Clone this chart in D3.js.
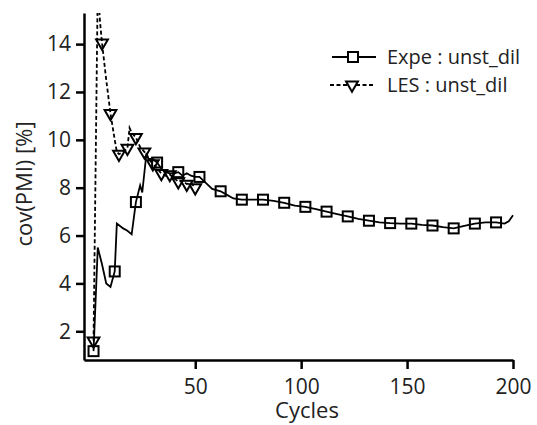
<!DOCTYPE html>
<html>
<head>
<meta charset="utf-8">
<script src="https://cdn.jsdelivr.net/npm/d3@7"></script>
<style>
  body { margin: 0; background: #fff; }
  text { font-family: "Open Sans", sans-serif; fill: #222; }
  .axis path, .axis line { stroke: #000; stroke-width: 2.5; }
</style>
</head>
<body>
<div id="chart"></div>
<script>
// data
const expeCycles = [2, 4, 6, 8, 10, 12, 13, 16, 18, 20, 22, 24, 25, 27, 28, 30, 32, 34, 36, 38, 40, 42, 44, 46, 48, 50, 52,
  55, 58, 62, 65, 68, 72, 77, 82, 87, 92, 97, 102, 107, 112, 117, 122, 127, 132, 137, 142, 147, 152,
  157, 162, 167, 172, 177, 182, 187, 192, 196, 198, 200];
const expeValues = [1.17, 5.5, 4.8, 4.0, 3.85, 4.5, 6.5, 6.3, 6.2, 6.05, 7.4, 8.1, 7.8, 9.45, 9.2, 9.2, 9.05, 8.8, 8.65, 8.6, 8.6, 8.65, 8.5, 8.6, 8.5, 8.45, 8.45,
  8.2, 7.95, 7.85, 7.7, 7.55, 7.5, 7.5, 7.5, 7.45, 7.37, 7.25, 7.2, 7.1, 7.0, 6.9, 6.8, 6.7, 6.62, 6.55, 6.52, 6.5, 6.5,
  6.45, 6.42, 6.35, 6.3, 6.4, 6.5, 6.55, 6.55, 6.5, 6.6, 6.85];
const expeMarkers = [2, 12, 22, 32, 42, 52, 62, 72, 82, 92, 102, 112, 122, 132, 142, 152, 162, 172, 182, 192];

const lesCycles = [2, 3, 4, 5, 6, 8, 10, 12, 13, 14, 16, 18, 19, 20, 22, 24, 26, 28, 30, 32, 34, 36, 38, 40, 42, 44, 46, 48, 50];
const lesValues = [1.6, 9, 16.5, 15.0, 14.05, 12.5, 11.1, 10.0, 9.5, 9.4, 9.5, 9.65, 10.5, 10.3, 10.1, 9.7, 9.5, 9.2, 9.0, 8.8, 8.6, 8.5, 8.55, 8.4, 8.25, 8.3, 8.15, 8.2, 8.0];
const lesMarkers = [2, 6, 10, 14, 18, 22, 26, 30, 34, 38, 42, 46, 50];

const xTicks = [50, 100, 150, 200];
const yTicks = [2, 4, 6, 8, 10, 12, 14];
const seriesNames = ["Expe : unst_dil", "LES : unst_dil"];

const W = 537, H = 425;
const svg = d3.select("#chart").append("svg")
  .attr("width", W).attr("height", H);

const x = d3.scaleLinear().domain([-2.5, 200]).range([84, 513]);
const y = d3.scaleLinear().domain([0.8, 15.3]).range([360, 13]);

svg.append("defs").append("clipPath").attr("id", "plot")
  .append("rect").attr("x", 84).attr("y", 13).attr("width", 440).attr("height", 347);

const expe = expeCycles.map((c, i) => ({c, v: expeValues[i]}));
const les = lesCycles.map((c, i) => ({c, v: lesValues[i]}));
const valAt = (arr, c) => arr.find(d => d.c === c).v;

const line = d3.line().x(d => x(d.c)).y(d => y(d.v));
const plot = svg.append("g").attr("clip-path", "url(#plot)");

plot.append("path").datum(les)
  .attr("fill", "none").attr("stroke", "#000").attr("stroke-width", 1.8)
  .attr("stroke-dasharray", "4,2.5")
  .attr("d", line);

plot.append("path").datum(expe)
  .attr("fill", "none").attr("stroke", "#000").attr("stroke-width", 1.8)
  .attr("d", line);

const tri = d3.symbol().type(d3.symbolTriangle).size(60);
plot.selectAll(".tri").data(lesMarkers).join("path")
  .attr("class", "tri")
  .attr("transform", c => `translate(${x(c)},${y(valAt(les, c))}) rotate(180)`)
  .attr("d", tri)
  .attr("fill", "none").attr("stroke", "#000").attr("stroke-width", 2);

const sq = 10;
plot.selectAll(".sq").data(expeMarkers).join("rect")
  .attr("class", "sq")
  .attr("x", c => x(c) - sq / 2)
  .attr("y", c => y(valAt(expe, c)) - sq / 2)
  .attr("width", sq).attr("height", sq)
  .attr("fill", "none").attr("stroke", "#000").attr("stroke-width", 2);

// axes
svg.append("g").attr("class", "axis")
  .attr("transform", "translate(0,360)")
  .call(d3.axisBottom(x).tickValues(xTicks).tickSizeInner(9).tickSizeOuter(0).tickPadding(10))
  .call(g => g.selectAll("text").attr("font-size", 21).attr("fill", "#222"));

svg.append("g").attr("class", "axis")
  .attr("transform", "translate(84,0)")
  .call(d3.axisLeft(y).tickValues(yTicks).tickSizeInner(8).tickSizeOuter(0).tickPadding(5))
  .call(g => g.selectAll("text").attr("font-size", 21).attr("fill", "#222"));

svg.selectAll(".axis path").attr("stroke-width", 3);

svg.append("text")
  .attr("x", 307).attr("y", 418)
  .attr("text-anchor", "middle").attr("font-size", 22)
  .text("Cycles");

svg.append("text")
  .attr("transform", "translate(32,184) rotate(-90)")
  .attr("text-anchor", "middle").attr("font-size", 22)
  .text("cov(PMI) [%]");

// legend
const leg = svg.append("g");
leg.append("line").attr("x1", 332).attr("x2", 376).attr("y1", 57).attr("y2", 57)
  .attr("stroke", "#000").attr("stroke-width", 1.8);
leg.append("rect").attr("x", 353 - sq / 2).attr("y", 57 - sq / 2)
  .attr("width", sq).attr("height", sq)
  .attr("fill", "#fff").attr("stroke", "#000").attr("stroke-width", 2);
leg.append("line").attr("x1", 330).attr("x2", 375).attr("y1", 85).attr("y2", 85)
  .attr("stroke", "#000").attr("stroke-width", 1.8).attr("stroke-dasharray", "4,2.5");
leg.append("path").attr("transform", "translate(352,85) rotate(180)")
  .attr("d", tri).attr("fill", "#fff").attr("stroke", "#000").attr("stroke-width", 2);
leg.selectAll(".lt").data(seriesNames).join("text")
  .attr("x", 387).attr("y", (d, i) => 57 + i * 28)
  .attr("dy", "0.35em").attr("font-size", 20)
  .text(d => d);
</script>
</body>
</html>
